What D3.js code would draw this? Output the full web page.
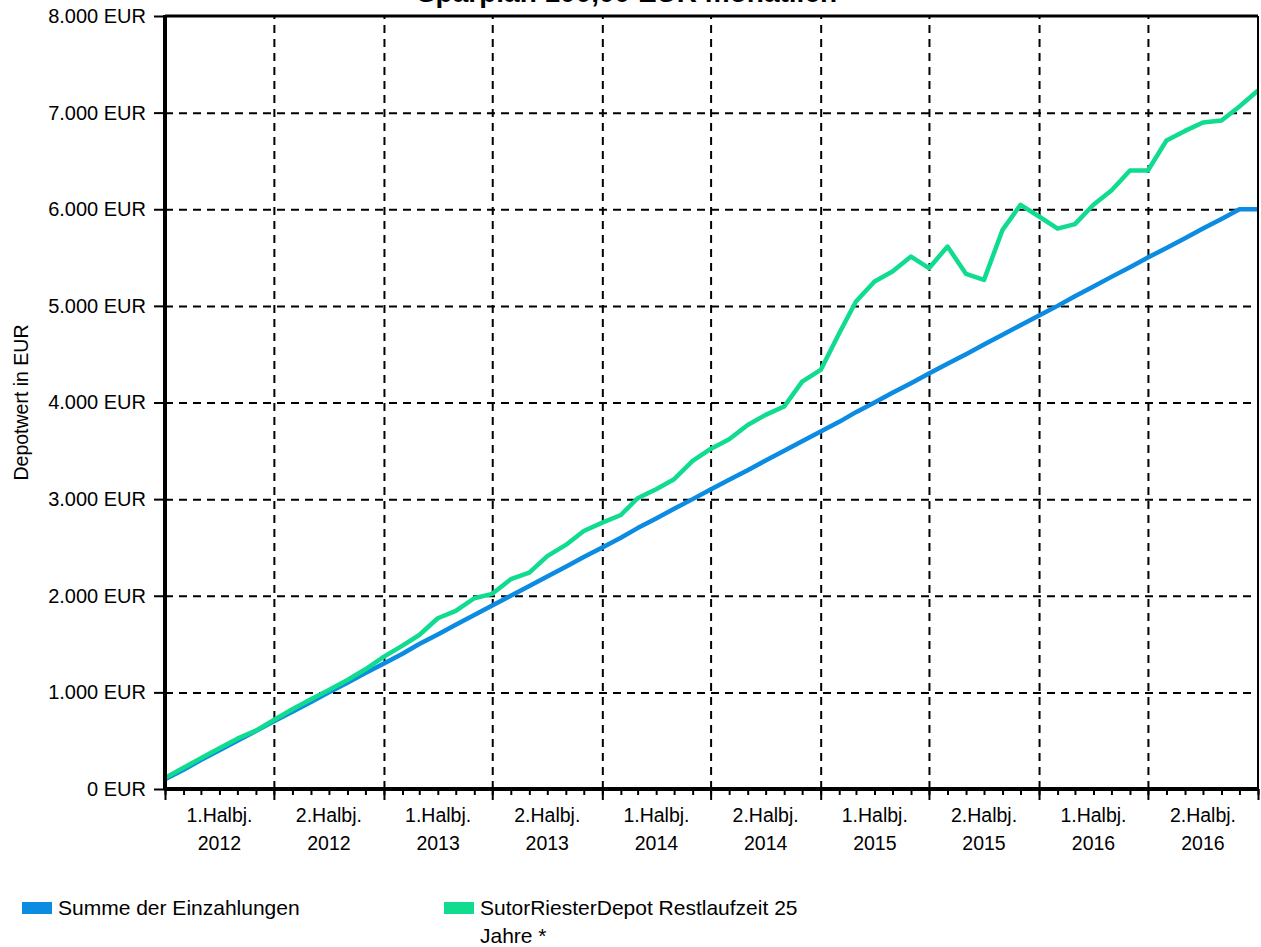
<!DOCTYPE html>
<html lang="de">
<head>
<meta charset="utf-8">
<title>Sparplan 100,00 EUR monatlich</title>
<script src="https://d3js.org/d3.v7.min.js"></script>
<style>
  body { margin: 0; background-color: #fff; }
  svg { display: block; background-color: #fff; font-family: "Liberation Sans", Arial, sans-serif; }
  .grid line { stroke: #000; stroke-width: 2; stroke-dasharray: 8,6; }
  .grid path, .ticks path { display: none; }
  .ticks line { stroke: #000; stroke-width: 2; }
  .ticks text { fill: #000; }
</style>
</head>
<body>
<script>

// monthly points (first of month)
var months = ["2012-01","2012-02","2012-03","2012-04","2012-05","2012-06","2012-07","2012-08","2012-09","2012-10","2012-11","2012-12",
              "2013-01","2013-02","2013-03","2013-04","2013-05","2013-06","2013-07","2013-08","2013-09","2013-10","2013-11","2013-12",
              "2014-01","2014-02","2014-03","2014-04","2014-05","2014-06","2014-07","2014-08","2014-09","2014-10","2014-11","2014-12",
              "2015-01","2015-02","2015-03","2015-04","2015-05","2015-06","2015-07","2015-08","2015-09","2015-10","2015-11","2015-12",
              "2016-01","2016-02","2016-03","2016-04","2016-05","2016-06","2016-07","2016-08","2016-09","2016-10","2016-11","2016-12",
              "2017-01"];

var einzahlungen = [100,200,300,400,500,600,700,800,900,1000,1100,1200,
                    1300,1400,1500,1600,1700,1800,1900,2000,2100,2200,2300,2400,
                    2500,2600,2700,2800,2900,3000,3100,3200,3300,3400,3500,3600,
                    3700,3800,3900,4000,4100,4200,4300,4400,4500,4600,4700,4800,
                    4900,5000,5100,5200,5300,5400,5500,5600,5700,5800,5900,6000,
                    6000];

var depot = [115,220,318,421,521,604,714,825,928,1025,1128,1239,
             1370,1484,1594,1767,1843,1974,2020,2171,2239,2410,2526,2670,
             2757,2836,3009,3102,3206,3395,3520,3620,3768,3872,3958,4216,
             4337,4717,5045,5252,5355,5510,5390,5614,5331,5269,5787,6046,
             5925,5800,5846,6046,6194,6401,6401,6711,6811,6897,6918,7063,
             7229];

var halfYears = ["2012-01","2012-07","2013-01","2013-07","2014-01","2014-07","2015-01","2015-07","2016-01","2016-07","2017-01"];
var halfLabels = ["1.Halbj.","2.Halbj.","1.Halbj.","2.Halbj.","1.Halbj.","2.Halbj.","1.Halbj.","2.Halbj.","1.Halbj.","2.Halbj."];
var yearLabels = ["2012","2012","2013","2013","2014","2014","2015","2015","2016","2016"];
var yTicks = [0,1000,2000,3000,4000,5000,6000,7000,8000];

var seriesNames = ["Summe der Einzahlungen", "SutorRiesterDepot Restlaufzeit 25", "Jahre *"];
var colors = ["#0b8ce2", "#0fdc8e"];

var parse = d3.timeParse("%Y-%m");
var monthDates = months.map(parse);
var halfDates = halfYears.map(parse);

var pLeft = 165, pRight = 1258, pTop = 16, pBottom = 789;

var svg = d3.select("body").append("svg")
  .attr("width", 1261)
  .attr("height", 947);

var x = d3.scaleTime()
  .domain([monthDates[0], monthDates[monthDates.length - 1]])
  .range([pLeft, pRight]);

var y = d3.scaleLinear()
  .domain([0, 8000])
  .range([pBottom, pTop]);

var de = d3.formatLocale({decimal: ",", thousands: ".", grouping: [3], currency: ["", " EUR"]});
var fmt = de.format(",");

// title (mostly cut off at the top)
svg.append("text")
  .attr("x", 627)
  .attr("y", 1.5)
  .attr("text-anchor", "middle")
  .style("font-size", "28px")
  .style("font-weight", "bold")
  .text("Sparplan 100,00 EUR monatlich");

// horizontal grid
svg.append("g")
  .attr("class", "grid")
  .attr("transform", "translate(" + pLeft + ",0)")
  .call(d3.axisLeft(y).tickValues(yTicks.slice(1, -1)).tickSize(-(pRight - pLeft)).tickFormat(""));

// vertical grid
svg.append("g")
  .attr("class", "grid")
  .attr("transform", "translate(0," + pBottom + ")")
  .call(d3.axisBottom(x).tickValues(halfDates.slice(1, -1)).tickSize(-(pBottom - pTop)).tickFormat(""));

// lines
var line = d3.line()
  .x(function(d, i) { return x(monthDates[i]); })
  .y(function(d) { return y(d); });

svg.append("path")
  .datum(einzahlungen)
  .attr("fill", "none")
  .attr("stroke", colors[0])
  .attr("stroke-width", 4.5)
  .attr("stroke-linejoin", "round")
  .attr("d", line);

svg.append("path")
  .datum(depot)
  .attr("fill", "none")
  .attr("stroke", colors[1])
  .attr("stroke-width", 4.5)
  .attr("stroke-linejoin", "round")
  .attr("d", line);

// y axis ticks + labels
var yAxis = svg.append("g")
  .attr("class", "ticks")
  .attr("transform", "translate(" + pLeft + ",0)")
  .call(d3.axisLeft(y).tickValues(yTicks).tickSize(11).tickPadding(8)
    .tickFormat(function(d) { return fmt(d) + " EUR"; }));
yAxis.selectAll("text").style("font-size", "20px");

// minor month ticks
svg.append("g")
  .attr("class", "ticks")
  .attr("transform", "translate(0," + pBottom + ")")
  .call(d3.axisBottom(x).tickValues(monthDates).tickSize(6).tickFormat(""));

// major half-year ticks
svg.append("g")
  .attr("class", "ticks")
  .attr("transform", "translate(0," + pBottom + ")")
  .call(d3.axisBottom(x).tickValues(halfDates).tickSize(11).tickFormat(""));

// x labels (centred in each half year)
var xl = svg.append("g").style("font-size", "19.5px");
halfLabels.forEach(function(lab, i) {
  var cx = (x(halfDates[i]) + x(halfDates[i + 1])) / 2;
  var t = xl.append("text").attr("text-anchor", "middle");
  t.append("tspan").attr("x", cx).attr("y", 822).text(lab);
  t.append("tspan").attr("x", cx).attr("y", 850).text(yearLabels[i]);
});

// frame
svg.append("line").attr("x1", pLeft).attr("x2", pRight).attr("y1", pTop).attr("y2", pTop)
  .attr("stroke", "#000").attr("stroke-width", 3);
svg.append("line").attr("x1", pRight).attr("x2", pRight).attr("y1", pTop).attr("y2", pBottom)
  .attr("stroke", "#000").attr("stroke-width", 2);
svg.append("line").attr("x1", pLeft).attr("x2", pLeft).attr("y1", pTop - 1).attr("y2", pBottom + 1)
  .attr("stroke", "#000").attr("stroke-width", 4);
svg.append("line").attr("x1", pLeft - 1).attr("x2", pRight).attr("y1", pBottom).attr("y2", pBottom)
  .attr("stroke", "#000").attr("stroke-width", 4);

// y axis title
svg.append("text")
  .attr("transform", "translate(28," + ((pTop + pBottom) / 2) + ") rotate(-90)")
  .attr("text-anchor", "middle")
  .style("font-size", "19.5px")
  .text("Depotwert in EUR");

// legend
var legend = svg.append("g").style("font-size", "21px");
legend.append("rect").attr("x", 22).attr("y", 902).attr("width", 30).attr("height", 12).attr("fill", colors[0]);
legend.append("text").attr("x", 58).attr("y", 915).text(seriesNames[0]);
legend.append("rect").attr("x", 444).attr("y", 902).attr("width", 30).attr("height", 12).attr("fill", colors[1]);
legend.append("text").attr("x", 480).attr("y", 915).text(seriesNames[1]);
legend.append("text").attr("x", 480).attr("y", 943).text(seriesNames[2]);

</script>
</body>
</html>
